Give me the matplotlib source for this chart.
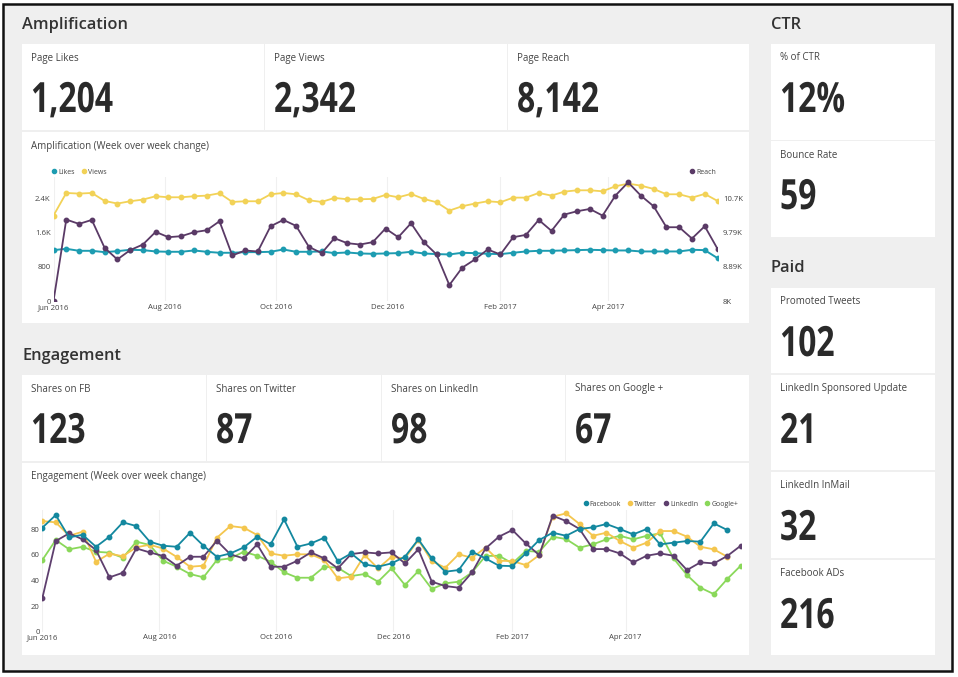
import matplotlib
matplotlib.use('Agg')
import matplotlib.pyplot as plt
from matplotlib.patches import Rectangle
from matplotlib.lines import Line2D
from matplotlib.patheffects import AbstractPathEffect
from matplotlib.transforms import Affine2D
import pandas as pd

# ---------------- data ----------------
weeks = pd.date_range('2016-06-01', periods=53, freq='7D')

likes = [1189, 1220, 1173, 1173, 1142, 1165, 1197, 1189, 1158, 1150,
         1150, 1181, 1150, 1127, 1127, 1142, 1142, 1150, 1204, 1150,
         1150, 1158, 1119, 1134, 1111, 1103, 1111, 1119, 1150, 1111,
         1096, 1088, 1127, 1119, 1103, 1096, 1127, 1158, 1173, 1173,
         1181, 1189, 1197, 1189, 1181, 1181, 1158, 1158, 1158, 1158,
         1197, 1189, 1002]
views = [1997, 2525, 2510, 2525, 2339, 2277, 2331, 2370, 2448, 2424,
         2424, 2448, 2463, 2518, 2315, 2331, 2331, 2494, 2525, 2494,
         2354, 2315, 2409, 2378, 2378, 2385, 2479, 2424, 2502, 2385,
         2308, 2113, 2214, 2277, 2331, 2308, 2416, 2416, 2525, 2463,
         2556, 2587, 2587, 2564, 2681, 2743, 2696, 2619, 2494, 2494,
         2416, 2502, 2339]
reach = [8000, 10125, 10012, 10116, 9388, 9084, 9327, 9474, 9804, 9665,
         9691, 9795, 9847, 10081, 9188, 9318, 9292, 9951, 10116, 9960,
         9414, 9249, 9639, 9509, 9474, 9535, 9891, 9665, 10029, 9535,
         9214, 8416, 8867, 9084, 9344, 9214, 9665, 9726, 10116, 9830,
         10255, 10342, 10402, 10229, 10749, 11096, 10749, 10472, 9925, 9925,
         9630, 9951, 9362]

facebook = [81.3, 91.2, 73.7, 75.8, 66.4, 74.3, 85.5, 82.6, 70.4, 67.2,
            66.4, 77.4, 67.2, 58.6, 61.2, 65.9, 74.3, 68.3, 87.8, 66.4,
            69.0, 73.5, 55.2, 61.2, 52.6, 50.8, 53.4, 58.6, 72.2, 57.3,
            46.9, 48.2, 62.5, 57.3, 51.6, 51.3, 61.2, 71.7, 77.4, 75.0,
            80.3, 81.6, 84.2, 80.3, 76.1, 80.3, 68.3, 69.6, 70.9, 70.4,
            84.7, 79.5]
twitter = [86.5, 85.5, 75.0, 78.2, 54.7, 61.0, 59.0, 66.0, 68.0, 65.0,
           58.5, 50.8, 51.6, 73.5, 82.6, 81.3, 75.6, 61.2, 59.4, 60.5,
           60.5, 56.0, 41.7, 43.0, 59.9, 49.5, 58.6, 57.3, 71.7, 55.2,
           50.0, 60.5, 57.8, 65.7, 55.5, 55.2, 52.1, 59.9, 89.9, 92.5,
           84.2, 75.0, 77.4, 70.9, 65.7, 69.6, 78.7, 78.7, 74.3, 66.4,
           64.4, 58.6]
linkedin = [26.1, 70.9, 76.9, 72.2, 63.8, 42.5, 46.1, 65.1, 62.0, 59.2,
            51.6, 58.6, 58.6, 71.1, 60.5, 57.3, 68.3, 50.8, 50.8, 55.5,
            62.0, 57.3, 49.5, 60.7, 62.0, 61.2, 62.0, 53.4, 64.4, 39.1,
            35.7, 34.4, 46.4, 65.1, 74.3, 79.5, 69.0, 59.9, 90.7, 86.5,
            80.3, 64.6, 64.6, 61.2, 54.2, 59.4, 61.2, 59.4, 48.2, 54.2,
            53.4, 59.2, 67.2]
googleplus = [56.0, 71.7, 64.4, 66.4, 62.5, 61.8, 57.8, 70.4, 67.8, 55.5,
              50.8, 45.1, 42.5, 56.0, 57.3, 62.5, 59.4, 54.7, 46.4, 42.2,
              42.2, 50.8, 50.0, 43.5, 45.1, 39.1, 49.5, 36.5, 47.4, 33.4,
              37.8, 39.1, 46.4, 59.2, 59.4, 53.4, 63.1, 62.5, 74.3, 72.4,
              65.7, 68.3, 72.2, 75.0, 72.2, 75.0, 76.9, 57.3, 44.3, 34.4,
              29.4, 41.2, 51.6]

month_ticks = pd.to_datetime(['2016-06-01', '2016-08-01', '2016-10-01',
                              '2016-12-01', '2017-02-01', '2017-04-01'])
month_labels = ['Jun 2016', 'Aug 2016', 'Oct 2016', 'Dec 2016', 'Feb 2017', 'Apr 2017']

amp_kpi_labels = ['Page Likes', 'Page Views', 'Page Reach']
amp_kpi_values = ['1,204', '2,342', '8,142']
eng_kpi_labels = ['Shares on FB', 'Shares on Twitter', 'Shares on LinkedIn', 'Shares on Google +']
eng_kpi_values = ['123', '87', '98', '67']
ctr_labels = ['% of CTR', 'Bounce Rate']
ctr_values = ['12%', '59']
paid_labels = ['Promoted Tweets', 'LinkedIn Sponsored Update', 'LinkedIn InMail', 'Facebook ADs']
paid_values = ['102', '21', '32', '216']

left_ticks = [0, 800, 1600, 2400]
left_tick_labels = ['0', '800', '1.6K', '2.4K']
right_ticks = [8000, 8893.3, 9786.7, 10680]
right_tick_labels = ['8K', '8.89K', '9.79K', '10.7K']
eng_ticks = [0, 20, 40, 60, 80]

# ---------------- style ----------------
C_LIKES = '#1d9cb1'
C_VIEWS = '#f2d257'
C_REACH = '#5a3a66'
C_FB = '#13889f'
C_TW = '#f4c64e'
C_LI = '#5e3f6e'
C_GP = '#8ad85a'
BG = '#efefef'
TXT = '#333333'
LAB = '#444444'
NUM = '#2a2a2a'

UI = ['Open Sans', 'DejaVu Sans']


class Condense(AbstractPathEffect):
    """Draw text glyphs narrower (condensed face look), anchored at left edge."""

    def __init__(self, sx):
        super().__init__()
        self.sx = sx

    def draw_path(self, renderer, gc, tpath, affine, rgbFace=None):
        x0 = affine.transform(tpath.vertices)[:, 0].min()
        t = affine + Affine2D().translate(-x0, 0).scale(self.sx, 1).translate(x0, 0)
        renderer.draw_path(gc, tpath, t, rgbFace)


W, H = 958, 677
fig = plt.figure(figsize=(W / 100, H / 100), dpi=100)
fig.patch.set_facecolor('white')


def R(x0, y0, x1, y1, fc, ec='none', lw=0, z=-2):
    fig.add_artist(Rectangle((x0 / W, 1 - y1 / H), (x1 - x0) / W, (y1 - y0) / H,
                             transform=fig.transFigure, facecolor=fc,
                             edgecolor=ec, linewidth=lw, zorder=z))


def T(x, y, s, size, color=TXT, weight='normal', family=UI, ha='left', va='center', **kw):
    return fig.text(x / W, 1 - y / H, s, fontsize=size, color=color, fontweight=weight,
                    family=family, ha=ha, va=va, **kw)


def kpi(x0, y0, x1, y1, label, value):
    R(x0, y0, x1, y1, 'white')
    T(x0 + 9, y0 + 14, label, 7.0, color=LAB)
    T(x0 + 9, y0 + 68, value, 30, color=NUM, weight='bold',
      va='baseline', path_effects=[Condense(0.765)])


# outer frame
R(3, 4, 952, 671, BG, ec='#111111', lw=1.8, z=-3)

# section titles
T(22, 25, 'Amplification', 11.8, weight='semibold')
T(22, 356, 'Engagement', 11.8, weight='semibold')
T(771, 25, 'CTR', 11.8, weight='semibold')
T(771, 268, 'Paid', 11.8, weight='semibold')

# amplification KPIs
amp_x = [(22, 264), (265, 507), (508, 749)]
for (a, b), lab, val in zip(amp_x, amp_kpi_labels, amp_kpi_values):
    kpi(a, 44, b, 130, lab, val)
# engagement KPIs
eng_x = [(22, 206), (207, 381), (382, 565), (566, 749)]
for (a, b), lab, val in zip(eng_x, eng_kpi_labels, eng_kpi_values):
    kpi(a, 375, b, 461, lab, val)
# CTR
ctr_y = [(44, 140), (141, 237)]
for (a, b), lab, val in zip(ctr_y, ctr_labels, ctr_values):
    kpi(771, a, 935, b, lab, val)
# Paid
paid_y = [(288, 373), (375, 470), (472, 558), (560, 655)]
for (a, b), lab, val in zip(paid_y, paid_labels, paid_values):
    kpi(771, a, 935, b, lab, val)

# chart cards
R(22, 132, 749, 323, 'white')
R(22, 463, 749, 655, 'white')
T(31, 146, 'Amplification (Week over week change)', 7.0, color=LAB)
T(31, 477, 'Engagement (Week over week change)', 7.0, color=LAB)


def style_axis(ax):
    for s in ax.spines.values():
        s.set_visible(False)
    ax.set_facecolor('none')
    ax.tick_params(length=0, labelsize=5.6, labelcolor=LAB, pad=2)
    for lbl in ax.get_xticklabels() + ax.get_yticklabels():
        lbl.set_family(UI)


# ---------------- amplification chart ----------------
LTOP = 2900
ax1 = fig.add_axes([53.5 / W, 1 - 301 / H, (717.5 - 53.5) / W, (LTOP * 0.04279) / H])
ax1.set_zorder(1)
ax1.plot(weeks, likes, color=C_LIKES, lw=1.4, marker='o', ms=3.2, zorder=3)
ax1.plot(weeks, views, color=C_VIEWS, lw=1.3, marker='o', ms=3.2, zorder=2)
ax1.set_xlim(weeks[0], weeks[-1])
ax1.set_ylim(0, LTOP)
ax1.set_yticks(left_ticks)
ax1.set_yticklabels(left_tick_labels)
ax1.set_xticks(month_ticks)
ax1.set_xticklabels(month_labels)
ax1.grid(axis='x', color='#f0f0f0', lw=0.8)
style_axis(ax1)

ax1r = ax1.twinx()
ax1r.plot(weeks, reach, color=C_REACH, lw=1.3, marker='o', ms=3.2, zorder=4)
ax1r.set_ylim(8000, 8000 + LTOP * 893.33 / 800)
ax1r.set_yticks(right_ticks)
ax1r.set_yticklabels(right_tick_labels)
style_axis(ax1r)
ax1r.tick_params(axis='y', pad=4)

h1 = [Line2D([], [], color=C_LIKES, marker='o', ls='none', ms=3),
      Line2D([], [], color=C_VIEWS, marker='o', ls='none', ms=3)]
leg1 = fig.legend(h1, ['Likes', 'Views'], loc='center left', bbox_to_anchor=(47 / W, 1 - 172 / H),
                  ncol=2, frameon=False, handletextpad=0.1, columnspacing=0.8,
                  handlelength=1, borderpad=0, prop={'family': UI, 'size': 5})
h2 = [Line2D([], [], color=C_REACH, marker='o', ls='none', ms=3)]
leg2 = fig.legend(h2, ['Reach'], loc='center right', bbox_to_anchor=(720 / W, 1 - 172 / H),
                  frameon=False, handletextpad=0.1, handlelength=1, borderpad=0,
                  prop={'family': UI, 'size': 5})
for lg in (leg1, leg2):
    for t in lg.get_texts():
        t.set_color(LAB)

# ---------------- engagement chart ----------------
ETOP = 95
ax2 = fig.add_axes([42.3 / W, 1 - 631.7 / H, (740.7 - 42.3) / W, (ETOP * 1.279) / H])
ax2.set_zorder(1)
ax2.plot(weeks[:len(googleplus)], googleplus, color=C_GP, lw=1.3, marker='o', ms=3.2, zorder=2)
ax2.plot(weeks[:len(twitter)], twitter, color=C_TW, lw=1.3, marker='o', ms=3.2, zorder=3)
ax2.plot(weeks[:len(linkedin)], linkedin, color=C_LI, lw=1.3, marker='o', ms=3.2, zorder=4)
ax2.plot(weeks[:len(facebook)], facebook, color=C_FB, lw=1.3, marker='o', ms=3.2, zorder=5)
ax2.set_xlim(weeks[0], weeks[-1])
ax2.set_ylim(0, ETOP)
ax2.set_yticks(eng_ticks)
ax2.set_xticks(month_ticks)
ax2.set_xticklabels(month_labels)
ax2.grid(axis='x', color='#f0f0f0', lw=0.8)
style_axis(ax2)

h3 = [Line2D([], [], color=c, marker='o', ls='none', ms=3) for c in (C_FB, C_TW, C_LI, C_GP)]
leg3 = fig.legend(h3, ['Facebook', 'Twitter', 'LinkedIn', 'Google+'], loc='center right',
                  bbox_to_anchor=(742 / W, 1 - 504 / H), ncol=4, frameon=False,
                  handletextpad=0.1, columnspacing=0.8, handlelength=1, borderpad=0,
                  prop={'family': UI, 'size': 5})
for t in leg3.get_texts():
    t.set_color(LAB)

fig.savefig('out.png', dpi=100, facecolor='white')
